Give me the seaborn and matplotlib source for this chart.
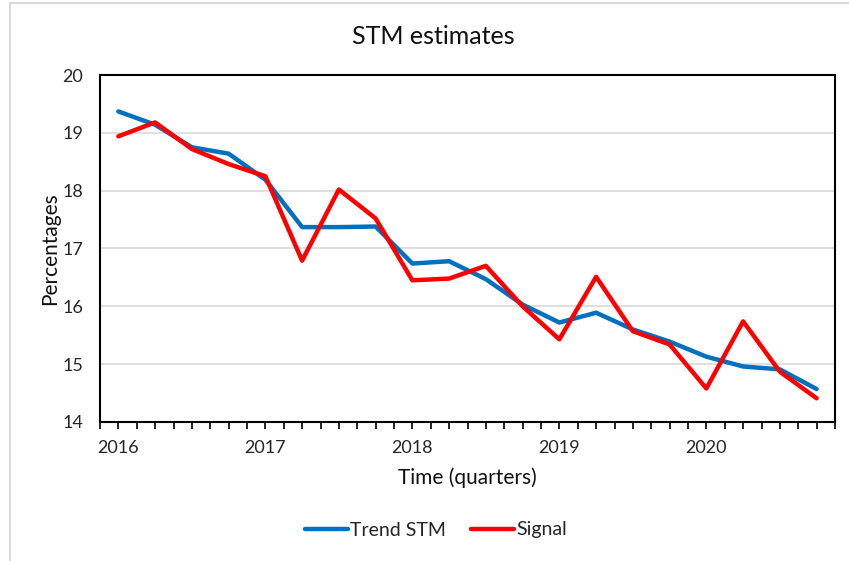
import numpy as np
import pandas as pd
import seaborn as sns
import matplotlib.pyplot as plt
from matplotlib.patches import Rectangle

# Quarterly estimates 2016Q1 - 2020Q4
quarters = list(range(20))
year_labels = ['2016', '2017', '2018', '2019', '2020']
trend_stm = [19.37, 19.14, 18.75, 18.64, 18.19, 17.37, 17.37, 17.38, 16.74, 16.78,
             16.47, 16.03, 15.72, 15.89, 15.60, 15.39, 15.13, 14.96, 14.91, 14.57]
signal = [18.94, 19.18, 18.72, 18.46, 18.25, 16.79, 18.02, 17.52, 16.45, 16.48,
          16.70, 16.00, 15.43, 16.51, 15.57, 15.34, 14.58, 15.74, 14.87, 14.41]

df = pd.DataFrame({
    'quarter': quarters * 2,
    'value': trend_stm + signal,
    'series': ['Trend STM'] * 20 + ['Signal'] * 20,
})

sns.set_theme(style='white')
plt.rcParams['font.family'] = ['Lato', 'DejaVu Sans']

fig = plt.figure(figsize=(8.49, 5.61), dpi=100)
ax = fig.add_axes([100 / 849, 1 - 422 / 561, 735 / 849, 347 / 561])

sns.lineplot(data=df, x='quarter', y='value', hue='series',
             palette={'Trend STM': '#0070C0', 'Signal': '#FF0000'},
             linewidth=3.2, ax=ax, legend=False)

ax.set_xlim(-0.5, 19.5)
ax.set_ylim(14, 20)
ax.set_yticks(range(14, 21))
# year labels on the major ticks, half-quarter tick marks as minor ticks
ax.set_xticks([0, 4, 8, 12, 16])
ax.set_xticklabels(year_labels)
ax.set_xticks(np.arange(-0.5, 19.51, 0.5), minor=True)
ax.tick_params(axis='x', which='both', length=5, width=1.2, color='black',
               direction='out', bottom=True)
ax.tick_params(axis='x', which='major', pad=8, labelsize=13, labelcolor='#262626')
ax.tick_params(axis='y', length=0, pad=12, labelsize=13, labelcolor='#262626')
ax.yaxis.grid(True, color='#d9d9d9', linewidth=1.2)
ax.set_axisbelow(True)
for s in ax.spines.values():
    s.set_color('black')
    s.set_linewidth(1.5)

ax.set_xlabel('Time (quarters)', fontsize=15, color='#111111', labelpad=8)
ax.set_ylabel('Percentages', fontsize=15, color='#111111', labelpad=2)
fig.text(433 / 849, 1 - 36 / 561, 'STM estimates', ha='center', va='center',
         fontsize=18, color='#111111')

handles = [plt.Line2D([], [], color='#0070C0', linewidth=3.2),
           plt.Line2D([], [], color='#FF0000', linewidth=3.2)]
fig.legend(handles, ['Trend STM', 'Signal'], loc='center', ncol=2,
           bbox_to_anchor=(436 / 849, 1 - 530 / 561), frameon=False,
           fontsize=14, handlelength=2.2, handletextpad=0.1, columnspacing=1.3)

fig.patches.append(Rectangle((10 / 849, -0.1), 1.2, 1 - 3 / 561 + 0.1,
                             transform=fig.transFigure, fill=False,
                             edgecolor='#d9d9d9', linewidth=1.5))

fig.savefig('out.png', dpi=100)
